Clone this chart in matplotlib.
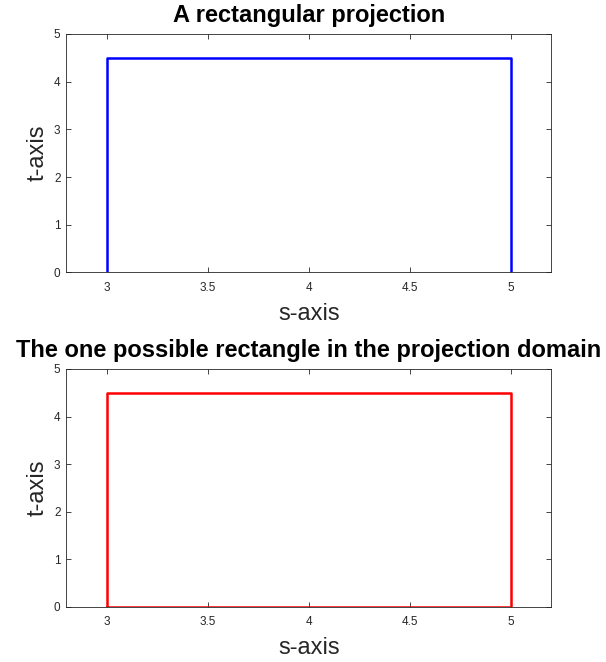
"""Rectangular projection in the (s, t) plane and the one rectangle it allows."""
import matplotlib
matplotlib.use("Agg")
import matplotlib.pyplot as plt

plt.rcParams['font.family'] = ['Liberation Sans', 'DejaVu Sans']

# corner coordinates of the projection (open at the bottom) and the rectangle
proj_s = [3.0, 3.0, 5.0, 5.0]
proj_t = [0.0, 4.5, 4.5, 0.0]
rect_s = [3.0, 3.0, 5.0, 5.0, 3.0]
rect_t = [0.0, 4.5, 4.5, 0.0, 0.0]

s_ticks = [3, 3.5, 4, 4.5, 5]
s_tick_labels = ["3", "3.5", "4", "4.5", "5"]
t_ticks = [0, 1, 2, 3, 4, 5]
titles = ["A rectangular projection",
          "The one possible rectangle in the projection domain"]

axis_col = "#262626"

fig = plt.figure(figsize=(6.06, 6.62), dpi=100)
ax1 = fig.add_axes([0.109, 0.5884, 0.801, 0.3603])
ax2 = fig.add_axes([0.109, 0.0838, 0.801, 0.3588])

ax1.plot(proj_s, proj_t, color="#0000ff", lw=1.8)
ax2.plot(rect_s, rect_t, color="#ff0000", lw=1.8)

for ax, title in zip([ax1, ax2], titles):
    ax.set_xlim(2.8, 5.2)
    ax.set_ylim(0, 5)
    ax.set_xticks(s_ticks)
    ax.set_xticklabels(s_tick_labels)
    ax.set_yticks(t_ticks)
    ax.tick_params(direction="in", length=3.5, width=0.6, labelsize=8.5,
                   colors=axis_col, top=True, right=True)
    ax.tick_params(axis="x", pad=7)
    ax.tick_params(axis="y", pad=4)
    for sp in ax.spines.values():
        sp.set_color(axis_col)
        sp.set_linewidth(0.6)
    ax.set_xlabel("s-axis", fontsize=17, color=axis_col, labelpad=6)
    ax.set_ylabel("t-axis", fontsize=17, color=axis_col, labelpad=4)
    ax.set_title(title, fontsize=17, fontweight="bold", pad=8.5)

fig.savefig("out.png", dpi=100)
